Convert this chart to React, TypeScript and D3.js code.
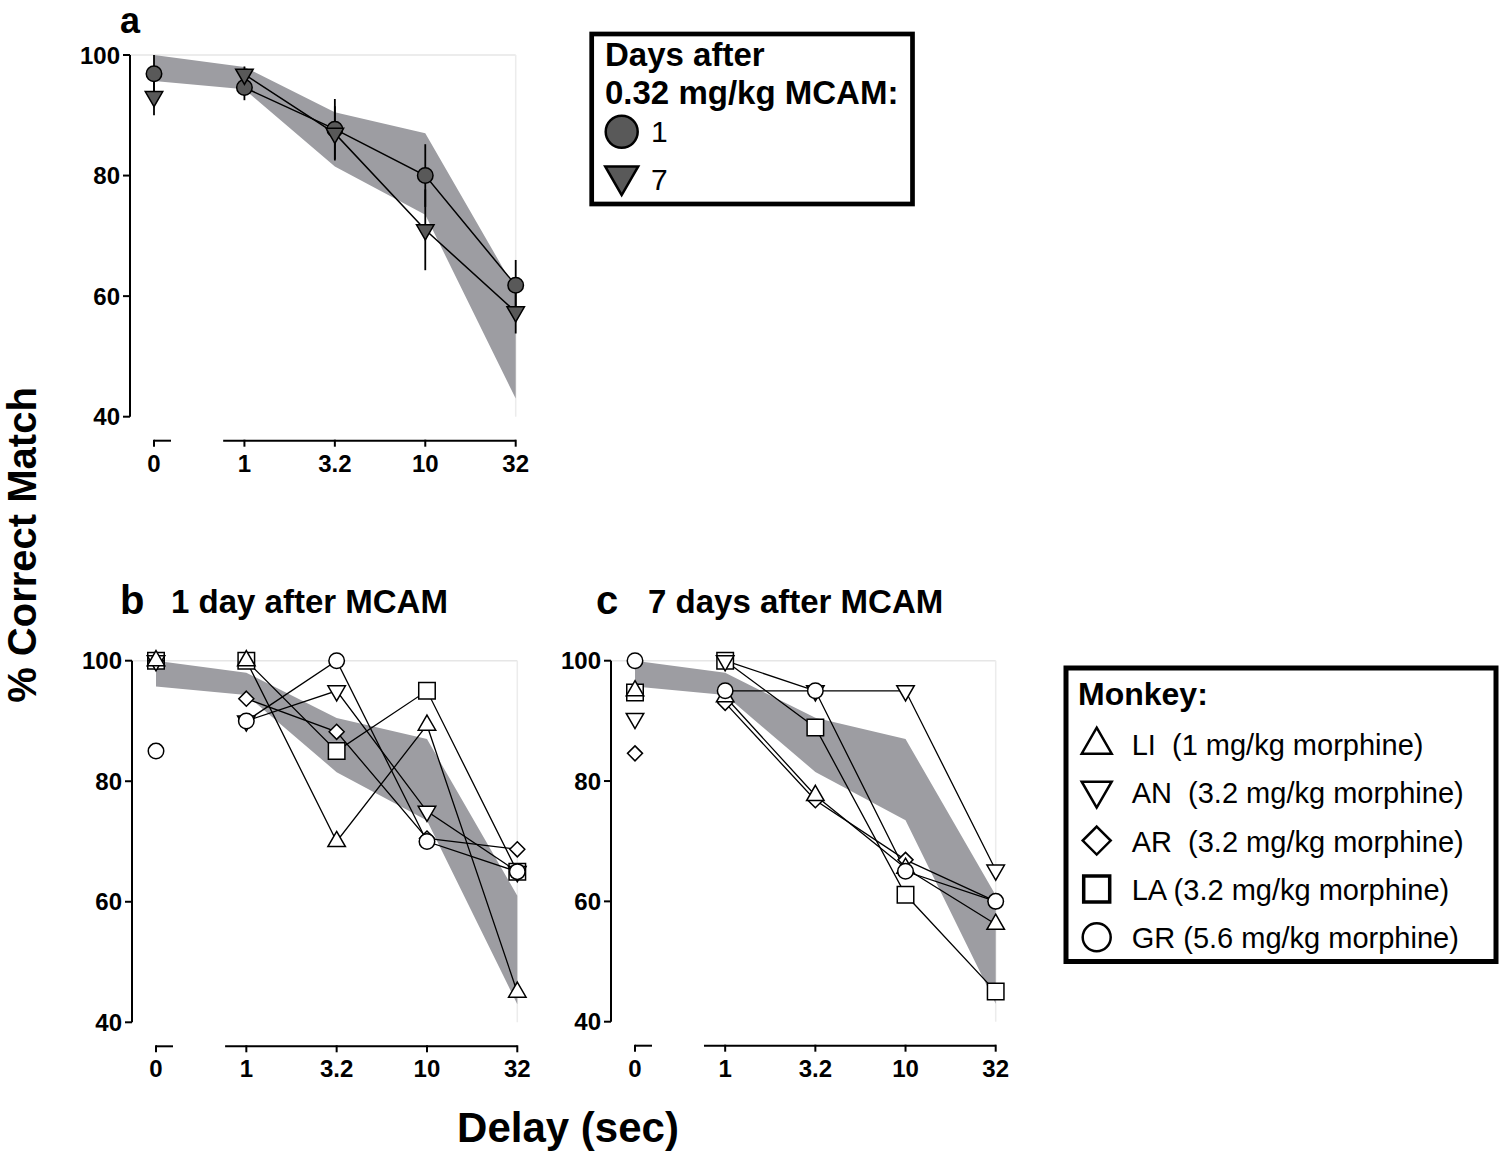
import * as d3 from 'd3'

// delay categories (sec), 0 is plotted on its own axis segment
const delays = ['0', '1', '3.2', '10', '32']

// control range (grey band)
const bandUpper = [100, 98, 90.5, 87, 61]
const bandLower = [95.7, 94.3, 81.5, 73.5, 43]

// panel a: group means +/- SEM
const day1Mean = [96.9, 94.6, 87.7, 80.0, 61.8]
const day1Sem = [3.1, 2.1, 5.0, 5.2, 4.2]
const day7Mean = [93.1, 96.8, 87.0, 71.0, 57.4]
const day7Sem = [3.1, 1.3, 4.5, 6.7, 3.6]

// individual monkeys
const monkeys = ['LI', 'AN', 'AR', 'LA', 'GR']
const monkeyLabels = [
  'LI  (1 mg/kg morphine)',
  'AN  (3.2 mg/kg morphine)',
  'AR  (3.2 mg/kg morphine)',
  'LA (3.2 mg/kg morphine)',
  'GR (5.6 mg/kg morphine)',
]
const monkeyShapes = ['triUp', 'triDown', 'diamond', 'square', 'circle']

// panel b: 1 day after MCAM
const day1LI = [100, 100, 70, 89.3, 45]
const day1AN = [100, 90, 95, 75, 65]
const day1AR = [100, 93.7, 88.2, 70.5, 68.7]
const day1LA = [100, 100, 85, 95, 65]
const day1GR = [85, 90, 100, 70, 65]

// panel c: 7 days after MCAM
const day7LI = [95, 94, 77.6, 65.5, 56.2]
const day7AN = [90.4, 100, 95, 95, 65.2]
const day7AR = [84.6, 93, 76.8, 66.9, 60]
const day7LA = [94.7, 100, 88.9, 61.1, 45]
const day7GR = [100, 95, 95, 65, 60]

const yTicks = [40, 60, 80, 100]

const FONT = '"Liberation Sans", Arial, sans-serif'
const BAND = '#9d9da2'
const DARK = '#595959'

function shapePath(kind: string, s: number) {
  if (kind === 'circle') return d3.symbol(d3.symbolCircle, Math.PI * (s / 2) ** 2)()
  if (kind === 'square') return d3.symbol(d3.symbolSquare, s * s)()
  if (kind === 'triUp' || kind === 'triDown') {
    return d3.symbol(d3.symbolTriangle, (s * s * Math.sqrt(3)) / 4)()
  }
  const h = s / 2
  return `M0,${-h}L${h},0L0,${h}L${-h},0Z`
}

function Marker({ kind, x, y, s, fill, sw }: any) {
  const rot = kind === 'triDown' ? ' rotate(180)' : ''
  return (
    <path
      d={shapePath(kind, s) || ''}
      transform={`translate(${x},${y})${rot}`}
      fill={fill}
      stroke="#000"
      strokeWidth={sw}
    />
  )
}

function Frame({ x, y }: any) {
  const y0 = y.range()[0]
  const axisX = x(delays[0]) - 24
  const xAxisY = y0 + 24
  const step = x.step()
  const band = d3
    .area<number>()
    .x((_, i) => x(delays[i]))
    .y0((_, i) => y(bandLower[i]))
    .y1(d => y(d))
  return (
    <g>
      {/* faint plot border */}
      <line x1={axisX} x2={x('32')} y1={y(100)} y2={y(100)} stroke="#e6e6e6" strokeWidth={1.5} />
      <line x1={x('32')} x2={x('32')} y1={y(100)} y2={y(40)} stroke="#ececec" strokeWidth={1.5} />
      <path d={band(bandUpper) || ''} fill={BAND} />
      {/* y axis */}
      <line x1={axisX} x2={axisX} y1={y(100)} y2={y(40)} stroke="#000" strokeWidth={2} />
      {yTicks.map(t => (
        <g key={t}>
          <line x1={axisX - 7} x2={axisX} y1={y(t)} y2={y(t)} stroke="#000" strokeWidth={2} />
          <text
            x={axisX - 10}
            y={y(t)}
            dy="0.36em"
            textAnchor="end"
            fontSize={24}
            fontWeight="bold"
            fontFamily={FONT}
          >
            {t}
          </text>
        </g>
      ))}
      {/* broken x axis */}
      <line x1={x('0')} x2={x('0') + 17} y1={xAxisY} y2={xAxisY} stroke="#000" strokeWidth={2} />
      <line x1={x('1') - step * 0.235} x2={x('32')} y1={xAxisY} y2={xAxisY} stroke="#000" strokeWidth={2} />
      {delays.map(d => (
        <g key={d}>
          <line x1={x(d)} x2={x(d)} y1={xAxisY - 1} y2={xAxisY + 6} stroke="#000" strokeWidth={2} />
          <text
            x={x(d)}
            y={xAxisY + 31}
            textAnchor="middle"
            fontSize={24}
            fontWeight="bold"
            fontFamily={FONT}
          >
            {d}
          </text>
        </g>
      ))}
    </g>
  )
}

function MonkeyPanel({ x, y, series }: any) {
  const line = d3
    .line<number>()
    .x((_, i) => x(delays[i + 1]))
    .y(d => y(d))
  const order = [3, 2, 1, 0, 4]
  return (
    <g>
      <Frame x={x} y={y} />
      {series.map((vals: number[], k: number) => (
        <path key={k} d={line(vals.slice(1)) || ''} fill="none" stroke="#000" strokeWidth={1.3} />
      ))}
      {order.map(k =>
        series[k].map((v: number, i: number) => {
          const kind = monkeyShapes[k]
          const s = kind === 'diamond' ? 15 : kind === 'square' ? 16.5 : kind === 'circle' ? 15.5 : 17.5
          return (
            <Marker key={`${k}-${i}`} kind={kind} x={x(delays[i])} y={y(v)} s={s} fill="#fff" sw={1.5} />
          )
        })
      )}
    </g>
  )
}

function App() {
  const makeX = (r0: number, r1: number) =>
    d3.scalePoint<string>().domain(delays).range([r0, r1])

  const xa = makeX(154, 515.7)
  const ya = d3.scaleLinear().domain([40, 100]).range([416.7, 55])
  const xb = makeX(156, 517.3)
  const yb = d3.scaleLinear().domain([40, 100]).range([1022.3, 660.7])
  const xc = makeX(635, 995.7)
  const yc = d3.scaleLinear().domain([40, 100]).range([1021.7, 660.7])

  const lineA = d3
    .line<number>()
    .x((_, i) => xa(delays[i + 1]))
    .y(d => ya(d))

  const groups = [
    { mean: day1Mean, sem: day1Sem, kind: 'circle', s: 15.5 },
    { mean: day7Mean, sem: day7Sem, kind: 'triDown', s: 17.5 },
  ]

  return (
    <svg
      width={1500}
      height={1157}
      style={{ position: 'absolute', left: 0, top: 0, background: '#fff' }}
      fontFamily={FONT}
    >
      <rect width={1500} height={1157} fill="#fff" />

      {/* panel a */}
      <Frame x={xa} y={ya} />
      {groups.map((g, k) => (
        <g key={k}>
          {g.mean.map((m, i) => (
            <line
              key={i}
              x1={xa(delays[i])}
              x2={xa(delays[i])}
              y1={ya(Math.min(100, m + g.sem[i]))}
              y2={ya(m - g.sem[i])}
              stroke="#000"
              strokeWidth={1.8}
            />
          ))}
        </g>
      ))}
      {groups.map((g, k) => (
        <path key={k} d={lineA(g.mean.slice(1)) || ''} fill="none" stroke="#000" strokeWidth={1.5} />
      ))}
      {groups.map((g, k) => (
        <g key={k}>
          {g.mean.map((m, i) => (
            <Marker key={i} kind={g.kind} x={xa(delays[i])} y={ya(m)} s={g.s} fill={DARK} sw={1.5} />
          ))}
        </g>
      ))}
      <text x={120} y={33} fontSize={36} fontWeight="bold">a</text>

      {/* legend a */}
      <rect x={591.7} y={34} width={320.8} height={170} fill="#fff" stroke="#000" strokeWidth={4.7} />
      <text x={605} y={66} fontSize={33} fontWeight="bold">Days after</text>
      <text x={605} y={104} fontSize={33} fontWeight="bold">0.32 mg/kg MCAM:</text>
      <Marker kind="circle" x={621.7} y={131.7} s={32} fill={DARK} sw={2.5} />
      <text x={651} y={142} fontSize={30}>1</text>
      <Marker kind="triDown" x={621.7} y={176} s={33} fill={DARK} sw={2.5} />
      <text x={651} y={189.5} fontSize={30}>7</text>

      {/* panel b */}
      <MonkeyPanel x={xb} y={yb} series={[day1LI, day1AN, day1AR, day1LA, day1GR]} />
      <text x={120} y={614} fontSize={40} fontWeight="bold">b</text>
      <text x={171} y={613} fontSize={33} fontWeight="bold">1 day after MCAM</text>

      {/* panel c */}
      <MonkeyPanel x={xc} y={yc} series={[day7LI, day7AN, day7AR, day7LA, day7GR]} />
      <text x={596} y={614} fontSize={40} fontWeight="bold">c</text>
      <text x={648} y={613} fontSize={33} fontWeight="bold">7 days after MCAM</text>

      {/* legend monkeys */}
      <rect x={1066} y={668} width={430} height={293.5} fill="#fff" stroke="#000" strokeWidth={5} />
      <text x={1078} y={705} fontSize={32} fontWeight="bold">Monkey:</text>
      {monkeys.map((m, i) => {
        const base = 755 + i * 48.3
        const kind = monkeyShapes[i]
        const s = kind === 'diamond' ? 28 : kind === 'square' ? 26 : kind === 'circle' ? 28 : 30
        return (
          <g key={m}>
            <Marker
              kind={kind}
              x={1096.7}
              y={base - 11 + (kind === 'triUp' ? 1 : kind === 'triDown' ? -2 : 0)}
              s={s}
              fill="#fff"
              sw={kind === 'square' ? 3.5 : 2.5}
            />
            <text x={1131.7} y={base} fontSize={29} style={{ whiteSpace: 'pre' }}>
              {monkeyLabels[i]}
            </text>
          </g>
        )
      })}

      {/* axis titles */}
      <text
        transform="translate(36,545) rotate(-90)"
        textAnchor="middle"
        fontSize={40}
        fontWeight="bold"
      >
        % Correct Match
      </text>
      <text x={568} y={1142} textAnchor="middle" fontSize={42} fontWeight="bold">
        Delay (sec)
      </text>
    </svg>
  )
}

export default App
